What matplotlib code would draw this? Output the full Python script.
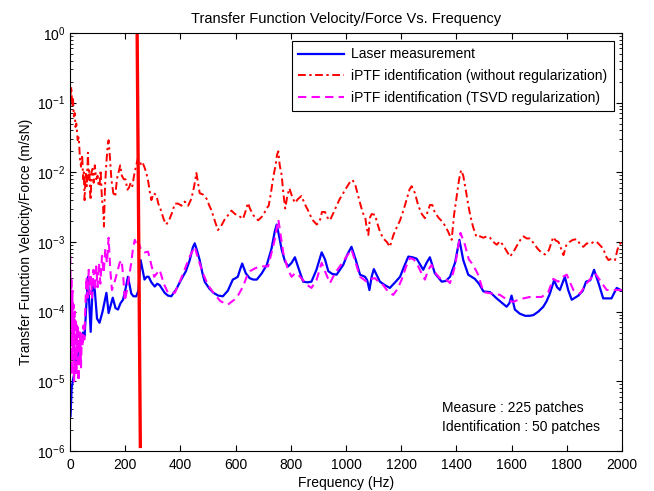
import numpy as np
import matplotlib
matplotlib.use('Agg')
import matplotlib.pyplot as plt
from matplotlib.ticker import LogLocator, NullFormatter

plt.rcParams['font.family'] = ['Liberation Sans', 'DejaVu Sans']
plt.rcParams['mathtext.fontset'] = 'custom'
plt.rcParams['mathtext.rm'] = 'Liberation Sans'

# values, magnitudes as log10 exponents
laser_f = [2, 6, 11, 17, 23, 30, 38, 47, 53, 58, 65, 70, 75, 80, 83, 90, 98, 107, 118, 132,
           140, 148, 155, 165, 174, 183, 192, 200, 210, 216, 222, 230, 240, 248, 256, 263, 270,
           278, 285, 295, 307, 316, 325, 335, 343, 355, 367, 385, 403, 420, 434, 445, 452, 460,
           470, 480, 488, 505, 520, 537, 554, 572, 590, 600, 608, 616, 624, 637, 651, 664, 677,
           695, 713, 730, 742, 749, 758, 767, 779, 791, 803, 815, 830, 845, 860, 875, 893, 912,
           924, 936, 951, 966, 990, 1005, 1020, 1035, 1051, 1069, 1077, 1085, 1093, 1101, 1112,
           1123, 1141, 1159, 1178, 1196, 1211, 1226, 1241, 1256, 1268, 1280, 1292, 1304, 1322,
           1347, 1362, 1377, 1395, 1411, 1425, 1443, 1467, 1482, 1498, 1522, 1546, 1564, 1582,
           1592, 1600, 1612, 1630, 1649, 1665, 1679, 1697, 1715, 1727, 1739, 1754, 1765, 1775,
           1793, 1806, 1818, 1842, 1858, 1870, 1885, 1899, 1915, 1932, 1947, 1962, 1981, 2000]
laser_log = [-5.5, -5.1, -4.98, -4.85, -4.69, -4.6, -4.45, -4.30, -4.35, -4.0, -3.50, -3.9,
             -4.29, -3.8, -3.54, -3.7, -4.1, -4.16, -4.0, -3.73, -4.02, -3.9, -3.8, -3.95, -3.97,
             -3.88, -3.83, -3.7, -3.50, -3.62, -3.74, -3.78, -3.78, -3.7, -3.26, -3.40, -3.54,
             -3.50, -3.50, -3.58, -3.64, -3.60, -3.62, -3.68, -3.73, -3.77, -3.78, -3.68, -3.54,
             -3.42, -3.26, -3.08, -3.02, -3.12, -3.26, -3.45, -3.57, -3.67, -3.73, -3.77, -3.78,
             -3.70, -3.54, -3.52, -3.50, -3.40, -3.31, -3.45, -3.52, -3.54, -3.54, -3.45, -3.33,
             -3.10, -2.85, -2.75, -2.92, -3.11, -3.28, -3.35, -3.30, -3.22, -3.40, -3.57, -3.58,
             -3.57, -3.40, -3.15, -3.25, -3.42, -3.46, -3.47, -3.33, -3.18, -3.07, -3.25, -3.47,
             -3.50, -3.55, -3.69, -3.50, -3.39, -3.48, -3.57, -3.62, -3.66, -3.58, -3.50, -3.35,
             -3.21, -3.22, -3.24, -3.32, -3.40, -3.30, -3.22, -3.45, -3.57, -3.56, -3.50, -3.30,
             -2.97, -3.26, -3.47, -3.53, -3.60, -3.71, -3.72, -3.81, -3.87, -3.93, -3.88, -3.77,
             -3.97, -4.03, -4.06, -4.06, -4.05, -4.00, -3.93, -3.85, -3.74, -3.55, -3.65, -3.69,
             -3.50, -3.70, -3.83, -3.77, -3.70, -3.57, -3.55, -3.40, -3.59, -3.81, -3.81, -3.81,
             -3.66, -3.70]

noreg_f = [2, 5, 8, 11, 14, 17, 20, 23, 28, 32, 36, 40, 44, 48, 50, 53, 57, 61, 65, 68, 70,
           73, 75, 78, 82, 86, 90, 95, 100, 104, 107, 111, 116, 120, 123, 127, 132, 137, 140,
           145, 150, 157, 164, 170, 176, 182, 188, 195, 201, 208, 214, 220, 226, 232, 240, 246,
           252, 258, 264, 270, 276, 283, 290, 295, 303, 313, 320, 330, 340, 349, 360, 370, 380,
           392, 404, 416, 428, 440, 450, 458, 464, 470, 482, 495, 505, 513, 525, 536, 548, 560,
           572, 585, 598, 610, 627, 637, 645, 652, 665, 682, 700, 712, 720, 728, 737, 745, 750,
           755, 760, 767, 773, 780, 787, 795, 805, 815, 827, 839, 850, 863, 878, 894, 905, 913,
           924, 933, 942, 955, 966, 978, 990, 1002, 1013, 1024, 1035, 1045, 1055, 1063, 1070,
           1075, 1081, 1087, 1093, 1105, 1115, 1123, 1135, 1148, 1159, 1172, 1185, 1196, 1208,
           1220, 1230, 1238, 1250, 1262, 1275, 1286, 1298, 1304, 1313, 1322, 1337, 1352, 1370,
           1383, 1392, 1401, 1410, 1417, 1425, 1434, 1443, 1452, 1461, 1473, 1486, 1498, 1510,
           1522, 1534, 1546, 1558, 1570, 1582, 1594, 1606, 1620, 1632, 1643, 1655, 1667, 1680,
           1695, 1708, 1721, 1735, 1745, 1751, 1760, 1770, 1780, 1788, 1798, 1810, 1822, 1836,
           1848, 1860, 1873, 1885, 1897, 1909, 1921, 1933, 1941, 1951, 1963, 1975, 1983, 1990,
           2000]
noreg_log = [-0.89, -0.77, -1.05, -0.95, -1.2, -1.15, -1.35, -1.3, -1.54, -1.5, -1.8, -1.92,
             -1.75, -2.1, -2.0, -2.40, -2.0, -2.2, -1.72, -2.1, -1.97, -2.3, -2.4, -2.0, -1.95,
             -2.15, -1.9, -2.1, -2.05, -2.2, -2.20, -1.97, -2.4, -2.5, -2.78, -2.2, -1.86, -1.6,
             -1.54, -1.8, -2.1, -2.3, -2.35, -2.1, -2.0, -1.90, -2.05, -2.1, -2.1, -2.25, -2.22,
             -2.15, -2.2, -2.05, -1.9, -1.80, -1.82, -1.9, -1.87, -1.93, -2.0, -2.12, -2.3, -2.40,
             -2.3, -2.33, -2.45, -2.55, -2.68, -2.75, -2.68, -2.58, -2.45, -2.45, -2.48, -2.42,
             -2.48, -2.38, -2.2, -2.01, -2.15, -2.3, -2.32, -2.38, -2.48, -2.55, -2.7, -2.83,
             -2.77, -2.68, -2.62, -2.55, -2.6, -2.62, -2.67, -2.55, -2.44, -2.52, -2.62, -2.69,
             -2.62, -2.52, -2.48, -2.3, -2.06, -1.9, -1.75, -1.70, -1.9, -2.04, -2.3, -2.52, -2.35,
             -2.23, -2.35, -2.44, -2.38, -2.34, -2.45, -2.55, -2.68, -2.75, -2.7, -2.57, -2.57,
             -2.65, -2.69, -2.58, -2.48, -2.38, -2.3, -2.22, -2.15, -2.11, -2.2, -2.35, -2.5,
             -2.60, -2.65, -2.80, -2.90, -2.65, -2.60, -2.61, -2.75, -2.85, -2.95, -3.0, -3.07,
             -2.9, -2.78, -2.69, -2.55, -2.39, -2.25, -2.20, -2.3, -2.48, -2.6, -2.66, -2.55,
             -2.47, -2.47, -2.58, -2.66, -2.72, -2.85, -2.97, -2.6, -2.35, -2.1, -1.97, -2.05,
             -2.25, -2.47, -2.65, -2.79, -2.93, -2.92, -2.94, -2.92, -2.94, -3.0, -3.04, -2.99,
             -3.05, -3.13, -3.21, -3.15, -3.05, -2.97, -2.92, -2.95, -2.95, -3.02, -3.1, -3.15,
             -3.18, -3.12, -3.0, -2.93, -2.98, -3.0, -3.1, -3.19, -3.05, -3.0, -2.97, -2.96,
             -3.03, -3.07, -3.02, -3.03, -3.0, -3.0, -3.05, -3.1, -3.2, -3.26, -3.24, -3.26,
             -3.12, -3.04, -3.00]

tsvd_f = [1, 3, 5, 7, 9, 11, 13, 15, 17, 19, 21, 23, 25, 27, 29, 31, 33, 35, 37, 40, 43, 46,
          49, 52, 56, 60, 64, 68, 72, 76, 80, 85, 90, 95, 100, 105, 110, 116, 122, 128, 134,
          140, 146, 152, 160, 170, 180, 187, 193, 199, 206, 214, 222, 228, 235, 242, 248, 258,
          270, 283, 293, 305, 315, 325, 340, 355, 380, 400, 415, 435, 452, 465, 482, 500, 520,
          545, 572, 595, 610, 627, 645, 652, 670, 688, 718, 740, 755, 765, 773, 790, 803, 815,
          827, 845, 860, 875, 893, 912, 927, 942, 960, 978, 1000, 1020, 1035, 1051, 1075, 1090,
          1105, 1120, 1135, 1150, 1171, 1186, 1202, 1218, 1232, 1245, 1256, 1270, 1286, 1298,
          1310, 1325, 1340, 1360, 1377, 1395, 1415, 1431, 1445, 1455, 1470, 1480, 1498, 1528,
          1558, 1588, 1606, 1630, 1667, 1709, 1733, 1751, 1769, 1786, 1800, 1812, 1824, 1848,
          1873, 1903, 1915, 1927, 1945, 1976, 2000]
tsvd_log = [-3.2, -4.2, -3.5, -4.9, -3.7, -4.6, -3.9, -5.0, -4.0, -4.7, -4.1, -4.9, -4.2, -4.6,
            -4.2, -5.0, -4.3, -4.7, -4.3, -4.8, -4.3, -4.5, -4.2, -4.4, -3.9, -3.5, -3.8, -3.4,
            -3.75, -3.5, -3.8, -3.4, -3.7, -3.35, -3.65, -3.3, -3.6, -3.2, -3.45, -3.1, -3.3,
            -2.94, -3.4, -3.69, -3.6, -3.45, -3.3, -3.26, -3.5, -3.85, -3.7, -3.5, -3.3, -3.1,
            -2.97, -3.05, -3.0, -3.12, -3.15, -3.14, -3.3, -3.5, -3.45, -3.40, -3.6, -3.73, -3.73,
            -3.55, -3.40, -3.2, -3.07, -3.25, -3.45, -3.62, -3.73, -3.85, -3.90, -3.83, -3.76,
            -3.64, -3.45, -3.42, -3.38, -3.35, -3.35, -3.0, -2.68, -2.95, -3.16, -3.40, -3.50,
            -3.45, -3.47, -3.55, -3.62, -3.66, -3.55, -3.30, -3.45, -3.59, -3.45, -3.35, -3.22,
            -3.11, -3.30, -3.50, -3.57, -3.53, -3.52, -3.58, -3.62, -3.70, -3.76, -3.68, -3.54,
            -3.35, -3.23, -3.25, -3.30, -3.42, -3.54, -3.40, -3.33, -3.45, -3.52, -3.53, -3.59,
            -3.35, -2.87, -3.04, -3.25, -3.30, -3.40, -3.48, -3.72, -3.74, -3.76, -3.84, -3.86,
            -3.82, -3.79, -3.79, -3.72, -3.53, -3.57, -3.50, -3.47, -3.58, -3.69, -3.74, -3.59,
            -3.45, -3.52, -3.59, -3.69, -3.69, -3.69]

# stray red stroke across the plot
stroke_f = [243, 255]
stroke_v = [1.5, 1.1e-6]

fig = plt.figure(figsize=(6.54, 4.91), dpi=100)
ax = fig.add_axes([0.107, 0.0815, 0.844, 0.8515])

ax.semilogy(laser_f, 10.0 ** np.array(laser_log), color='#0000ff', lw=1.6,
            label='Laser measurement')
ax.semilogy(noreg_f, 10.0 ** np.array(noreg_log), color='#ff0000', lw=1.4,
            dashes=(4, 1.8, 1.2, 1.8), label='iPTF identification (without regularization)')
ax.semilogy(tsvd_f, 10.0 ** np.array(tsvd_log), color='#ff00ff', lw=1.5,
            dashes=(4, 2.5), label='iPTF identification (TSVD regularization)')
ax.plot(stroke_f, stroke_v, color='#ff0000', lw=2.4, solid_capstyle='butt')

ax.set_xlim(0, 2000)
ax.set_ylim(1e-6, 1e0)
ax.set_xticks(np.arange(0, 2001, 200))
ax.yaxis.set_major_locator(LogLocator(base=10, numticks=10))
ax.yaxis.set_minor_locator(LogLocator(base=10, subs=np.arange(2, 10), numticks=20))
ax.yaxis.set_minor_formatter(NullFormatter())
ax.tick_params(which='both', direction='in', top=True, right=True, labelsize=10)
ax.tick_params(axis='x', pad=5)
ax.tick_params(which='major', length=4)
ax.tick_params(which='minor', length=2)
for s in ax.spines.values():
    s.set_linewidth(0.8)

ax.set_title('Transfer Function Velocity/Force Vs. Frequency', fontsize=10.5, pad=7)
ax.set_xlabel('Frequency (Hz)', fontsize=10, labelpad=3)
ax.set_ylabel('Transfer Function Velocity/Force (m/sN)', fontsize=10, labelpad=3)

leg = ax.legend(loc='upper right', fontsize=10, handlelength=3.3, fancybox=False,
                framealpha=1, edgecolor='black', borderaxespad=0.6, labelspacing=0.55,
                borderpad=0.45, handletextpad=0.5)
leg.get_frame().set_linewidth(0.8)

ax.text(0.674, 0.081, 'Measure : 225 patches\nIdentification : 50 patches',
        transform=ax.transAxes, fontsize=10, ha='left', va='center', linespacing=1.45)

fig.savefig('out.png', dpi=100)
